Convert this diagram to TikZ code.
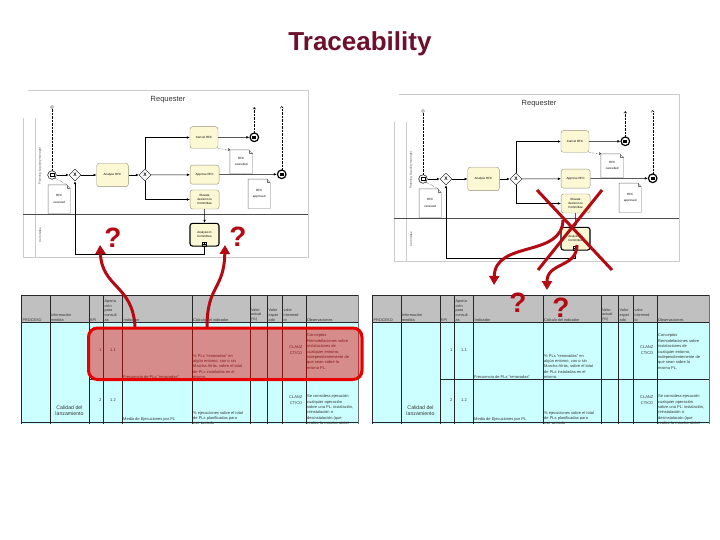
\documentclass[tikz,border=0pt]{standalone}
\usepackage{fontspec}
\setmainfont{Liberation Sans}
\usetikzlibrary{shapes.geometric,arrows.meta}
\definecolor{titlecol}{RGB}{110,15,45}
\definecolor{markred}{RGB}{180,10,20}
\definecolor{taskfill}{RGB}{252,248,212}
\definecolor{taskline}{RGB}{150,145,120}
\definecolor{hdrgray}{RGB}{192,192,192}
\definecolor{cellcyan}{RGB}{204,255,255}
\definecolor{hilite}{RGB}{230,0,0}
\tikzset{
  tinytext/.style={font=\fontsize{3}{3.6}\selectfont},
  task/.style={rectangle, rounded corners=2.5pt, draw=taskline, fill=taskfill, line width=0.4pt, inner sep=0pt, align=center, font=\fontsize{3}{3.6}\selectfont},
  gate/.style={diamond, draw, fill=white, minimum size=12pt, inner sep=0pt, line width=0.4pt, font=\fontsize{5}{5}\selectfont\bfseries},
  evt/.style={circle, draw, fill=white, minimum size=8.6pt, inner sep=0pt, line width=0.5pt},
  endevt/.style={evt, line width=1.2pt},
  docbox/.style={rectangle, inner sep=0pt, align=center, font=\fontsize{3}{4.5}\selectfont},
  flow/.style={line width=0.5pt, -{Latex[length=3pt,width=2.6pt]}},
  assoc/.style={line width=0.4pt, densely dotted},
  shotframe/.style={draw=black!20, line width=0.5pt},
  cell/.style={inner sep=0.5pt, font=\fontsize{3.8}{4.6}\selectfont, text=black!80, align=left},
  bodycell/.style={cell, font=\fontsize{4}{5.4}\selectfont},
  bigmark/.style={text=markred, font=\fontsize{28}{28}\selectfont\bfseries, inner sep=0pt},
  redarrow/.style={draw=markred, line width=3pt, -{Triangle[length=9pt,width=10pt]}},
  hl/.style={draw=hilite, line width=3pt, fill=hilite, fill opacity=0.45, rounded corners=9pt, inner sep=0pt},
}
\newcommand{\docoutline}[1]{%
  \draw[line width=0.35pt, black!55] (#1.south west) -- (#1.north west) -- ([xshift=-3.5pt]#1.north east) -- ([yshift=-3.5pt]#1.north east) -- (#1.south east) -- cycle;
  \draw[line width=0.3pt, black!55] ([xshift=-3.5pt]#1.north east) -- ([xshift=-3.5pt,yshift=-3.5pt]#1.north east) -- ([yshift=-3.5pt]#1.north east);}
\newcommand{\bpmn}[1]{%
  \draw[shotframe] (23,118) -- (23,257) -- (308,257) -- (308,90) -- (28,90);
  \draw[shotframe] (35,118) -- (35,257);
  \node[font=\fontsize{7.5}{8}\selectfont, text=black!80] (#1req) at (168,100) {Requester};
  \draw[line width=0.6pt, black!70] (23,214) -- (308,214);
  \node[rotate=90, tinytext, text=black!70] (#1laneA) at (40,166) {Planning \& quality manager};
  \node[rotate=90, tinytext, text=black!70] (#1laneB) at (40,235) {Committee};
  % events and gateways
  \node[evt] (#1start) at (52,175) {};
  \draw[line width=0.3pt] ([shift={(-2,-1.4)}]#1start.center) rectangle ([shift={(2,1.4)}]#1start.center);
  \node[circle, draw, minimum size=3pt, inner sep=0pt, line width=0.3pt] (#1src) at (52,107) {};
  \draw[assoc] (#1src) -- (#1start);
  \node[gate] (#1g1) at (75,175) {X};
  \node[task, minimum width=31.6pt, minimum height=23.4pt] (#1analyse) at (112.5,175) {Analyse RFC};
  \node[gate] (#1g2) at (145,175) {X};
  \node[task, minimum width=28pt, minimum height=21.6pt] (#1cancel) at (204,137.5) {Cancel RFC};
  \node[task, minimum width=29pt, minimum height=19pt] (#1approve) at (204.6,174.7) {Approve RFC};
  \node[task, minimum width=29pt, minimum height=19pt] (#1elevate) at (204.6,199.5) {Elevate\\decision to\\Committee};
  \node[task, draw=black, line width=1.1pt, minimum width=29pt, minimum height=22.7pt] (#1analysis) at (204.5,234.7) {Analysis in\\Committee};
  \draw[line width=0.3pt] ([shift={(-2,-4.6)}]#1analysis.south) rectangle ([shift={(2,-0.8)}]#1analysis.south);
  \draw[line width=0.3pt] ([shift={(0,-4.2)}]#1analysis.south) -- ([shift={(0,-1.2)}]#1analysis.south);
  \draw[line width=0.3pt] ([shift={(-1.5,-2.7)}]#1analysis.south) -- ([shift={(1.5,-2.7)}]#1analysis.south);
  \node[endevt] (#1endA) at (254.3,137.3) {};
  \fill ([shift={(-2,-1.4)}]#1endA.center) rectangle ([shift={(2,1.4)}]#1endA.center);
  \node[endevt] (#1endB) at (281.7,174.3) {};
  \fill ([shift={(-2,-1.4)}]#1endB.center) rectangle ([shift={(2,1.4)}]#1endB.center);
  \coordinate (#1outA) at (254.3,107);
  \coordinate (#1outB) at (281.7,106);
  \draw[assoc, -{Straight Barb[length=2pt,width=3pt]}] (#1endA) -- (#1outA);
  \draw[assoc, -{Straight Barb[length=2pt,width=3pt]}] (#1endB) -- (#1outB);
  % documents
  \node[docbox, minimum width=22.3pt, minimum height=23.3pt] (#1dcan) at (241.2,161.7) {RFC\\[2pt]cancelled};
  \docoutline{#1dcan}
  \node[docbox, minimum width=21.7pt, minimum height=29pt] (#1dapp) at (259.2,193.8) {RFC\\[2pt]approved};
  \docoutline{#1dapp}
  \node[docbox, minimum width=21.7pt, minimum height=28.3pt] (#1drec) at (59.2,199.2) {RFC\\[2pt]received};
  \docoutline{#1drec}
  % flows
  \draw[flow] (#1start) -- (#1g1);
  \draw[flow] (#1g1) -- (#1analyse);
  \draw[flow] (#1analyse) -- (#1g2);
  \draw[flow] (#1g2.north) |- (#1cancel.west);
  \draw[flow] (#1g2) -- (#1approve);
  \draw[flow] (#1g2.south) |- (#1elevate.west);
  \draw[flow] (#1cancel) -- (#1endA);
  \draw[flow] (#1approve) -- (#1endB);
  \draw[flow] (#1elevate) -- (#1analysis);
  \draw[flow] (#1analysis.south) -- ++(0,8) -| (#1g1.south);
  \draw[assoc, -{Straight Barb[length=1.5pt,width=2.5pt]}] (#1cancel.south east) -- (#1dcan.north west);
  \draw[assoc] (#1start.south east) -- ([xshift=-3pt]#1drec.north east);
}
\newcommand{\kpitable}[1]{%
  \begin{scope}
  \clip (21,294.5) rectangle (358.5,423);
  \fill[hdrgray] (21.5,295) rectangle (358,322.7);
  \fill[cellcyan] (21.5,322.7) rectangle (358,430);
  \draw[line width=0.5pt, black!85] (21.5,295) -- (358,295);
  \draw[line width=0.5pt, black!85] (21.5,322.7) -- (358,322.7);
  \draw[line width=0.5pt, black!85] (89,379.3) -- (358,379.3);
  \draw[line width=0.5pt, black!85] (21.5,422.5) -- (358,422.5);
  \foreach \xx in {21.5,50,89,103.5,122.5,192,250,267.5,282.5,306,358}
    \draw[line width=0.5pt, black!85] (\xx,295) -- (\xx,430);
  % header
  \node[cell, anchor=south west] (#1hproc) at (22,321.8) {PROCESO};
  \node[cell, anchor=south west] (#1hinfo) at (50.5,321.8) {Información\\medida};
  \node[cell, anchor=south west] (#1hkpi) at (89.5,321.8) {KPI};
  \node[cell, anchor=south west] (#1hapo) at (104,321.8) {Aporta\\ción\\para\\consult\\as};
  \node[cell, anchor=south west] (#1hind) at (123,321.8) {Indicador};
  \node[cell, anchor=south west] (#1hcal) at (192.5,321.8) {Cálculo del indicador};
  \node[cell, anchor=south west] (#1hva) at (250.5,321.8) {Valor\\actual\\(\%)};
  \node[cell, anchor=south west] (#1hve) at (268,321.8) {Valor\\esper\\ado};
  \node[cell, anchor=south west] (#1hvi) at (283,321.8) {valor\\intermed\\io};
  \node[cell, anchor=south west] (#1hobs) at (306.5,321.8) {Observaciones};
  % row 1
  \node[bodycell, anchor=east] (#1k1) at (102,350) {1};
  \node[bodycell] (#1a1) at (113,350) {1.1};
  \node[bodycell, anchor=south west] (#1i1) at (122.5,379) {Frecuencia de PLs "renovadas"};
  \node[bodycell, anchor=south west] (#1c1) at (192.5,379.5) {\% PLs "renovadas" en\\algún entorno, con o sin\\Marcha Atrás, sobre el total\\de PLs instaladas en el\\mismo.};
  \node[bodycell, anchor=east, align=right] (#1v1) at (303,350) {CLANZ\\CTICO};
  \node[bodycell, anchor=north west] (#1o1) at (306.5,333.5) {Conceptos\\Remodelaciones sobre\\instalaciones de\\cualquier entorno,\\independientemente de\\que sean sobre la\\misma PL.};
  % row 2
  \node[bodycell, anchor=east] (#1k2) at (102,400) {2};
  \node[bodycell] (#1a2) at (113,400) {1.2};
  \node[bodycell, anchor=south west] (#1i2) at (122.5,422.5) {Media de Ejecuciones por PL};
  \node[bodycell, anchor=north west] (#1c2) at (192.5,410.5) {\% ejecuciones sobre el total\\de PLs planificadas para\\ese periodo};
  \node[bodycell, anchor=east, align=right] (#1v2) at (303,400) {CLANZ\\CTICO};
  \node[bodycell, anchor=north west] (#1o2) at (306.5,394) {Se considera ejecución\\cualquier operación\\sobre una PL: instalación,\\reinstalación o\\desinstalación (que\\realice la marcha atrás)};
  \node[cell, font=\fontsize{5.2}{6.2}\selectfont, align=center] (#1proc) at (69.5,411) {Calidad del\\lanzamiento};
  \end{scope}
}
\begin{document}
\begin{tikzpicture}[x=1pt, y=-1pt]
  \fill[white] (0,0) rectangle (720,540);
  \useasboundingbox (0,0) rectangle (720,540);
  % title
  \node[font=\fontsize{26}{30}\selectfont\bfseries, text=titlecol] (title) at (360,44) {Traceability};
  % screenshots
  \begin{scope}\bpmn{L}\end{scope}
  \begin{scope}[shift={(371,4)}]\bpmn{R}\end{scope}
  \begin{scope}\kpitable{L}\end{scope}
  \begin{scope}[shift={(351,0)}]\kpitable{R}\end{scope}
  % highlight on the left table
  \node[hl, minimum width=273.5pt, minimum height=51.5pt] (hl) at (225.25,353.75) {};
  % left arrows and question marks
  \coordinate (a1s) at (135,327);
  \coordinate (a1e) at (100,245);
  \coordinate (a2s) at (207,327);
  \coordinate (a2e) at (225,245);
  \draw[redarrow] (a1s) .. controls (133,285) and (102,288) .. (a1e);
  \draw[redarrow] (a2s) .. controls (207,285) and (224,290) .. (a2e);
  \node[bigmark] (q1) at (113,238) {?};
  \node[bigmark] (q2) at (238,237) {?};
  % right: cross and arrows
  \draw[markred, line width=3pt] (537,190) -- (612,270);
  \draw[markred, line width=3pt] (602,190) -- (538,270);
  \coordinate (b1s) at (563,220);
  \coordinate (b1e) at (494,285);
  \coordinate (b2s) at (577,245);
  \coordinate (b2e) at (547,290);
  \draw[redarrow] (b1s) .. controls (562,258) and (495,240) .. (b1e);
  \draw[redarrow] (b2s) .. controls (577,268) and (547,262) .. (b2e);
  \node[bigmark] (q3) at (518,303) {?};
  \node[bigmark] (q4) at (561,308) {?};
\end{tikzpicture}
\end{document}
